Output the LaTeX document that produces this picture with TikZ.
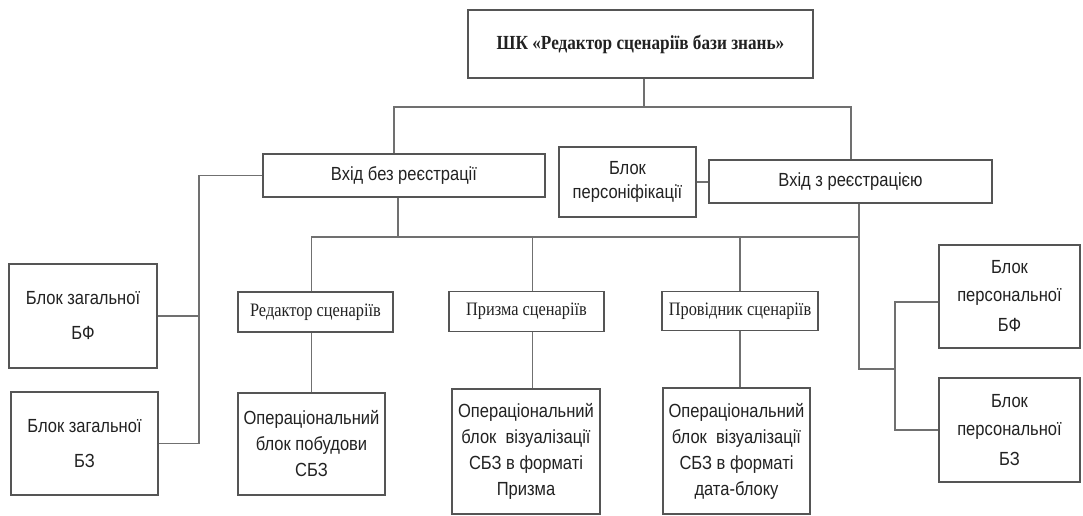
\documentclass[tikz,border=0pt]{standalone}
\usepackage{fontspec}
\setmainfont{Liberation Serif}
\newfontfamily\sansn[FakeStretch=0.87]{Liberation Sans}
\newfontfamily\serifn[FakeStretch=0.86]{Liberation Serif}
\usepackage{tikz}
\usetikzlibrary{calc,positioning}
\definecolor{edgex}{HTML}{555555}
\definecolor{linex}{HTML}{707070}
\definecolor{inkx}{HTML}{222222}
\tikzset{
  bx/.style={draw=edgex,line width=1.4pt,fill=white,text=inkx,align=center,inner sep=0pt},
  sz/.style 2 args={minimum width=#1pt,minimum height=#2pt},
  sb/.style={bx,font=\sansn\fontsize{19}{26}\selectfont},
  rb/.style={bx,font=\serifn\fontsize{19}{23}\selectfont},
  ln/.style={draw=linex,line width=1.3pt}
}
\begin{document}
\begin{tikzpicture}[x=1pt,y=-1pt]
\fill[white] (0,0) rectangle (1083,516);
\useasboundingbox (0,0) rectangle (1083,516);
\node[bx,sz={345}{68},font=\serifn\bfseries\fontsize{20}{24}\selectfont] (top) at (640.5,44) {ШК «Редактор сценаріїв бази знань»};
\node[sb,sz={282}{43}] (bez) at (404,175.5) {Вхід без реєстрації};
\node[sb,sz={137}{70},font=\sansn\fontsize{19}{24}\selectfont] (pers) at (627.5,182) {Блок\\персоніфікації};
\node[sb,sz={283}{43}] (zreg) at (850.5,181.5) {Вхід з реєстрацією};
\node[sb,sz={148}{104}] (gbf) at (83,316) {Блок загальної\\[9pt]БФ};
\node[sb,sz={147}{103}] (gbz) at (84.5,443.5) {Блок загальної\\[9pt]БЗ};
\node[rb,sz={155}{40}] (red) at (315.5,312) {Редактор сценаріїв};
\node[rb,sz={155}{40}] (prz) at (526.5,311.5) {Призма сценаріїв};
\node[rb,sz={156}{39}] (prov) at (740,311) {Провідник сценаріїв};
\node[sb,sz={147}{102}] (op1) at (311.5,444) {Операціональний\\блок побудови\\СБЗ};
\node[sb,sz={148}{125}] (op2) at (526,451.5) {Операціональний\\блок~ візуалізації\\СБЗ в форматі\\Призма};
\node[sb,sz={147}{126}] (op3) at (736.5,451) {Операціональний\\блок~ візуалізації\\СБЗ в форматі\\дата-блоку};
\node[sb,sz={141}{103}] (pbf) at (1009.5,296.5) {Блок\\[2pt]персональної\\[4pt]БФ};
\node[sb,sz={141}{104}] (pbz) at (1009.5,430) {Блок\\[2pt]персональної\\[4pt]БЗ};
\coordinate (busA) at (644,107);
\coordinate (busB) at (398,237);
\coordinate (rv) at (895,369);
\draw[ln] (top.south -| busA) -- (busA);
\draw[ln] (bez.north -| 394,0) |- (busA) -| (zreg.north -| 851,0);
\draw[ln] (bez.west) -| (199,0 |- gbz.east) -- (gbz.east);
\draw[ln] (gbf.east) -- (199,0 |- gbf.east);
\draw[ln] (pers.east) -- (pers.east -| zreg.west);
\draw[ln] (bez.south -| busB) -- (busB);
\draw[ln] (red.north -| op1) |- (busB) -| ([xshift=8.5pt]zreg.south);
\draw[ln] ([xshift=8.5pt]zreg.south) |- (rv);
\draw[ln] ([yshift=-5.5pt]pbf.west) -| (rv |- pbz.west) -- (pbz.west);
\draw[ln] (op1.north) -- (op1.north |- red.south);
\draw[ln] ([xshift=6pt]prz.north) -- ([xshift=6pt]prz.north |- busB);
\draw[ln] ([xshift=6pt]prz.south) -- ([xshift=6pt]prz.south |- op2.north);
\draw[ln] (prov.north) -- (prov.north |- busB);
\draw[ln] (prov.south) -- (prov.south |- op3.north);
\end{tikzpicture}
\end{document}
